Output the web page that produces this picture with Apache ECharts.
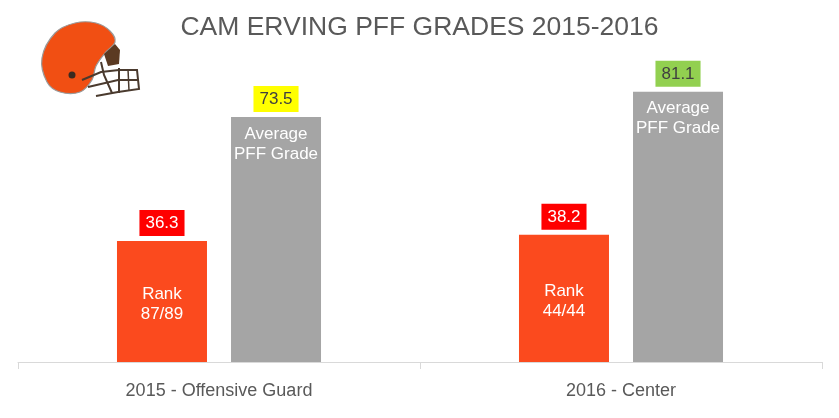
<!DOCTYPE html>
<html>
<head>
<meta charset="utf-8">
<script src="https://cdn.jsdelivr.net/npm/echarts@6/dist/echarts.min.js"></script>
<style>
html,body{margin:0;padding:0;background:#fff;}
#chart{width:839px;height:418px;}
</style>
</head>
<body>
<div id="chart"></div>
<script>
// Data
var categories = ['2015 - Offensive Guard', '2016 - Center'];
var camGrades = [36.3, 38.2];
var avgGrades = [73.5, 81.1];
var rankTexts = ['Rank\n87/89', 'Rank\n44/44'];
var avgText = 'Average\nPFF Grade';
var avgBoxColors = ['#FFFF00', '#92D050'];

var FONT = '"Liberation Sans", Arial, sans-serif';
var chart = echarts.init(document.getElementById('chart'), null, {renderer: 'canvas'});

var axisBase = {
  type: 'category',
  data: categories,
  boundaryGap: true
};

var option = {
  backgroundColor: '#ffffff',
  animation: false,
  title: {
    text: 'CAM ERVING PFF GRADES 2015-2016',
    left: 'center',
    top: 14,
    padding: 0,
    textStyle: {fontFamily: FONT, fontSize: 26.5, fontWeight: 'normal', color: '#595959'}
  },
  grid: {left: 18, right: 17, top: 62, bottom: 56},
  xAxis: [
    Object.assign({}, axisBase, {
      axisLine: {lineStyle: {color: '#D9D9D9', width: 1}},
      axisTick: {show: true, length: 7, lineStyle: {color: '#D9D9D9'}},
      axisLabel: {fontFamily: FONT, fontSize: 18, color: '#595959', margin: 20}
    }),
    Object.assign({}, axisBase, {
      show: false
    })
  ],
  yAxis: {
    type: 'value', min: 0, max: 90, show: false,
    splitLine: {show: false}
  },
  series: [
    {
      type: 'bar', xAxisIndex: 0,
      data: camGrades,
      barWidth: 90, barGap: '26.7%',
      itemStyle: {color: '#FB4A1E'},
      label: {
        show: true, position: 'top', distance: 5,
        fontFamily: FONT, fontSize: 17, lineHeight: 19, color: '#ffffff',
        backgroundColor: '#FF0000', padding: [4, 6, 3, 6],
        formatter: function (p) { return p.value.toFixed(1); }
      }
    },
    {
      type: 'bar', xAxisIndex: 0,
      data: avgGrades.map(function (v, i) {
        return {value: v, label: {backgroundColor: avgBoxColors[i]}};
      }),
      barWidth: 90, barGap: '26.7%',
      itemStyle: {color: '#A5A5A5'},
      label: {
        show: true, position: 'top', distance: 5,
        fontFamily: FONT, fontSize: 17, lineHeight: 19, color: '#404040',
        padding: [4, 6, 3, 6],
        formatter: function (p) { return p.value.toFixed(1); }
      }
    },
    {
      type: 'bar', xAxisIndex: 1,
      data: camGrades,
      barWidth: 90, barGap: '26.7%',
      itemStyle: {color: 'rgba(0,0,0,0)'},
      silent: true,
      label: {
        show: true, position: 'inside', offset: [0, 3],
        fontFamily: FONT, fontSize: 17, lineHeight: 20, color: '#ffffff',
        formatter: function (p) { return rankTexts[p.dataIndex]; }
      }
    },
    {
      type: 'bar', xAxisIndex: 1,
      data: avgGrades,
      barWidth: 90, barGap: '26.7%',
      itemStyle: {color: 'rgba(0,0,0,0)'},
      silent: true,
      label: {
        show: true, position: 'insideTop', distance: 7,
        fontFamily: FONT, fontSize: 17, lineHeight: 20, color: '#ffffff',
        formatter: function () { return avgText; }
      }
    }
  ],
  graphic: [
    {
      type: 'group',
      children: [
        {type: 'polygon', shape: {smooth: 0.35, points: [[47, 82], [42, 58], [55, 33], [75, 23], [96, 23], [110, 31], [115, 42], [105, 53], [96, 66], [92, 80], [80, 92], [60, 92]]},
         style: {fill: '#F14F13', stroke: '#9a9a9a', lineWidth: 1.2}},
        {type: 'polygon', shape: {points: [[104, 54], [115, 44], [120, 50], [119, 64], [108, 66]]},
         style: {fill: '#5B3A22'}},
        {type: 'circle', shape: {cx: 72, cy: 75, r: 3.5}, style: {fill: '#3a2a20'}},
        {type: 'polyline', shape: {points: [[82, 80], [101, 72], [119, 70], [137, 70], [139, 89], [118, 92], [96, 96]]},
         style: {fill: null, stroke: '#4a3a2e', lineWidth: 2}},
        {type: 'polyline', shape: {points: [[88, 87], [118, 80], [138, 80]]},
         style: {fill: null, stroke: '#4a3a2e', lineWidth: 2}},
        {type: 'polyline', shape: {points: [[101, 62], [104, 75], [112, 93]]},
         style: {fill: null, stroke: '#4a3a2e', lineWidth: 2}},
        {type: 'line', shape: {x1: 119, y1: 68, x2: 119, y2: 93},
         style: {stroke: '#4a3a2e', lineWidth: 2}},
        {type: 'line', shape: {x1: 128, y1: 69, x2: 129, y2: 91},
         style: {stroke: '#4a3a2e', lineWidth: 1.5}}
      ]
    }
  ]
};

chart.setOption(option);
</script>
</body>
</html>
